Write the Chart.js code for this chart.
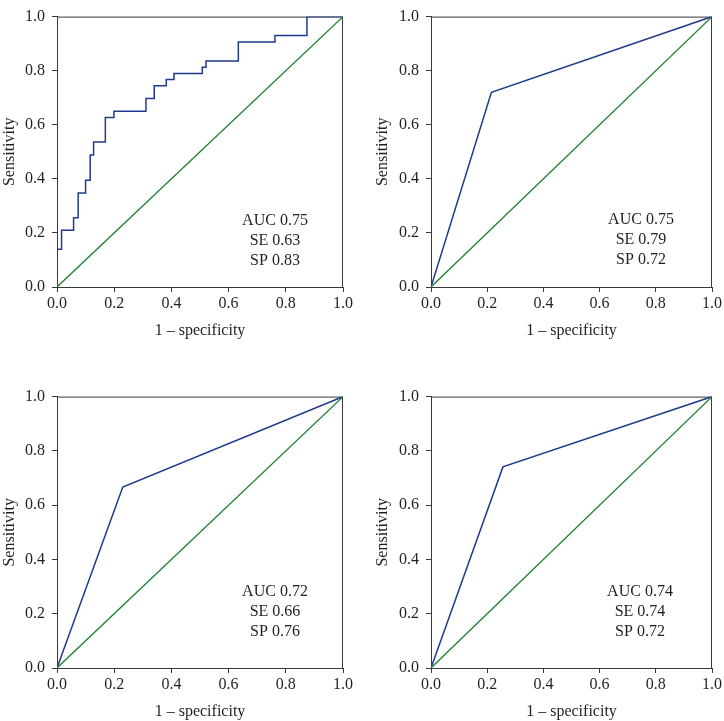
<!DOCTYPE html>
<html>
<head>
<meta charset="utf-8">
<script src="https://cdn.jsdelivr.net/npm/chart.js@4.4.1/dist/chart.umd.min.js"></script>
<style>
  body { margin: 0; background: #fff; }
  #wrap { position: relative; width: 724px; height: 721px; background: #fff; }
  canvas { position: absolute; }
</style>
</head>
<body>
<div id="wrap">
  <canvas id="rocA" width="362" height="340" style="left:0;top:0"></canvas>
  <canvas id="rocB" width="362" height="340" style="left:362px;top:0"></canvas>
  <canvas id="rocC" width="362" height="341" style="left:0;top:380px"></canvas>
  <canvas id="rocD" width="362" height="341" style="left:362px;top:380px"></canvas>
</div>
<script>
// ROC curves (x = 1 - specificity, y = sensitivity)
const rocAFpr = [0, 0, 0.016, 0.058, 0.074, 0.100, 0.116, 0.128, 0.169, 0.199, 0.311, 0.340, 0.382, 0.409, 0.508, 0.521, 0.634, 0.762, 0.874, 1.0];
const rocATpr = [0, 0.14, 0.21, 0.256, 0.348, 0.395, 0.488, 0.536, 0.627, 0.650, 0.697, 0.744, 0.767, 0.790, 0.813, 0.836, 0.906, 0.930, 1.0, 1.0];
const rocBFpr = [0, 0.215, 1];
const rocBTpr = [0, 0.72, 1];
const rocCFpr = [0, 0.23, 1];
const rocCTpr = [0, 0.667, 1];
const rocDFpr = [0, 0.256, 1];
const rocDTpr = [0, 0.741, 1];
// reference (chance) line
const chanceX = [0, 1];
const chanceY = [0, 1];

const tickValues = [0, 0.2, 0.4, 0.6, 0.8, 1.0];

const aucValues = ["0.75", "0.75", "0.72", "0.74"];
const seValues = ["0.63", "0.79", "0.66", "0.74"];
const spValues = ["0.83", "0.72", "0.76", "0.72"];

const FONT = "'Liberation Serif', 'Times New Roman', serif";
const FS = 16;
const INK = "#231f20";
const AXIS = "#3a3a3a";
const BLUE = "#1f3a8c";
const GREEN = "#18802c";

function toPoints(xs, ys) {
  return xs.map((x, i) => ({ x: x, y: ys[i] }));
}

// frame box goes under the curves, AUC / SE / SP text on top
const panelExtras = {
  id: "panelExtras",
  beforeDatasetsDraw(chart) {
    const { ctx, chartArea } = chart;
    ctx.save();
    ctx.strokeStyle = AXIS;
    ctx.lineWidth = 1;
    ctx.strokeRect(chartArea.left + 0.5, chartArea.top + 0.5,
      chartArea.right - chartArea.left - 1, chartArea.bottom - chartArea.top);
    ctx.restore();
  },
  afterDraw(chart, args, opts) {
    const { ctx, chartArea } = chart;
    ctx.save();
    ctx.fillStyle = INK;
    ctx.font = FS + "px " + FONT;
    ctx.textAlign = "center";
    ctx.textBaseline = "middle";
    const cx = chartArea.right - opts.dx;
    const cy = chartArea.bottom - opts.dy;
    opts.lines.forEach((t, i) => ctx.fillText(t, cx, cy + i * 20));
    ctx.restore();
  },
};

function makeRoc(id, fpr, tpr, stepped, yWidth, titlePad, padTop, padRight, dx, dy, idx) {
  const ctx = document.getElementById(id).getContext("2d");
  return new Chart(ctx, {
    type: "scatter",
    data: {
      datasets: [
        {
          data: toPoints(chanceX, chanceY),
          showLine: true,
          borderColor: GREEN,
          borderWidth: 1.3,
          pointRadius: 0,
        },
        {
          data: toPoints(fpr, tpr),
          showLine: true,
          stepped: stepped ? "before" : false,
          borderColor: BLUE,
          borderWidth: 1.5,
          pointRadius: 0,
        },
      ],
    },
    options: {
      responsive: false,
      animation: false,
      devicePixelRatio: 1,
      layout: { padding: { left: 0, top: padTop, right: padRight, bottom: 0 } },
      plugins: {
        legend: { display: false },
        tooltip: { enabled: false },
        panelExtras: {
          dx: dx,
          dy: dy,
          lines: ["AUC " + aucValues[idx], "SE " + seValues[idx], "SP " + spValues[idx]],
        },
      },
      scales: {
        x: {
          type: "linear",
          min: 0,
          max: 1,
          afterBuildTicks: (s) => { s.ticks = tickValues.map((v) => ({ value: v })); },
          afterFit: (s) => { s.height = 53; },
          ticks: {
            color: INK,
            font: { family: FONT, size: FS },
            padding: 2,
            maxRotation: 0,
            callback: (v) => v.toFixed(1),
          },
          grid: { drawOnChartArea: false, drawTicks: true, tickLength: 5, color: AXIS },
          border: { display: true, color: AXIS, width: 1 },
          title: {
            display: true,
            text: "1 \u2013 specificity",
            color: INK,
            font: { family: FONT, size: FS },
            padding: { top: 0, bottom: 0 },
          },
        },
        y: {
          type: "linear",
          min: 0,
          max: 1,
          afterBuildTicks: (s) => { s.ticks = tickValues.map((v) => ({ value: v })); },
          afterFit: (s) => { s.width = yWidth; },
          ticks: {
            color: INK,
            font: { family: FONT, size: FS },
            padding: 7,
            callback: (v) => v.toFixed(1),
          },
          grid: { drawOnChartArea: false, drawTicks: true, tickLength: 5, color: AXIS },
          border: { display: true, color: AXIS, width: 1 },
          title: {
            display: true,
            text: "Sensitivity",
            color: INK,
            font: { family: FONT, size: FS },
            padding: { top: titlePad, bottom: 0 },
          },
        },
      },
    },
    plugins: [panelExtras],
  });
}

makeRoc("rocA", rocAFpr, rocATpr, true, 57, 0, 7, 19, 68, 66, 0);
makeRoc("rocB", rocBFpr, rocBTpr, false, 69, 11, 7, 11, 71, 67, 1);
makeRoc("rocC", rocCFpr, rocCTpr, false, 57, 0, 14, 19, 68, 76, 2);
makeRoc("rocD", rocDFpr, rocDTpr, false, 69, 11, 14, 10, 72, 76, 3);
</script>
</body>
</html>
